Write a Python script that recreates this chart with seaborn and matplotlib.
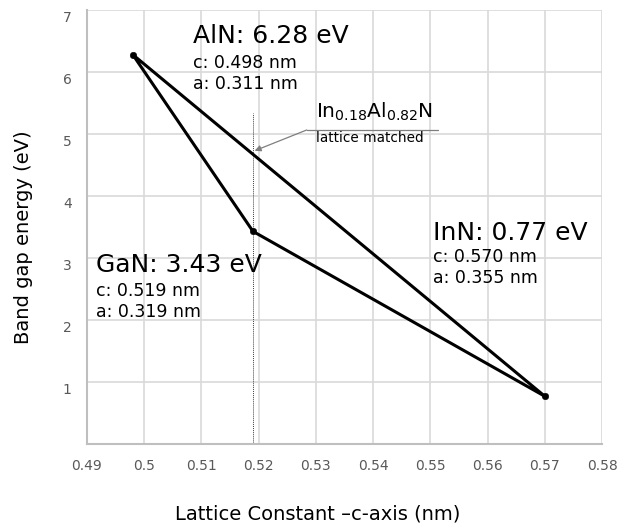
import matplotlib
matplotlib.use("Agg")
import matplotlib.pyplot as plt
import matplotlib.transforms as mtransforms
import seaborn as sns
import pandas as pd

# Data
materials = ["AlN", "GaN", "InN"]
c_lattice = [0.498, 0.519, 0.570]
a_lattice = [0.311, 0.319, 0.355]
band_gap = [6.28, 3.43, 0.77]
# Outline path: AlN -> GaN -> InN -> AlN
path_order = ["AlN", "GaN", "InN", "AlN"]
matched_c = 0.519
matched_top = 5.34
arrow_tip_y = 4.73
x_ticks = [0.49, 0.50, 0.51, 0.52, 0.53, 0.54, 0.55, 0.56, 0.57, 0.58]
x_tick_labels = ["0.49", "0.5", "0.51", "0.52", "0.53", "0.54", "0.55", "0.56", "0.57", "0.58"]
y_ticks = [1, 2, 3, 4, 5, 6, 7]

sns.set_style("white")
plt.rcParams["font.family"] = ["DejaVu Sans"]
plt.rcParams["text.color"] = "black"
plt.rcParams["axes.labelcolor"] = "black"

df = pd.DataFrame({"material": materials, "c": c_lattice, "a": a_lattice, "Eg": band_gap})
idx = {m: i for i, m in enumerate(materials)}
path_df = pd.DataFrame({
    "c": [c_lattice[idx[m]] for m in path_order],
    "Eg": [band_gap[idx[m]] for m in path_order],
})

fig = plt.figure(figsize=(6.28, 5.28), dpi=100)
ax = fig.add_axes([87/628, 1-444/528, (602-87)/628, (444-10)/528])

sns.lineplot(data=path_df, x="c", y="Eg", sort=False, estimator=None,
             color="black", linewidth=2.2, ax=ax, zorder=3)
sns.scatterplot(data=df, x="c", y="Eg", color="black", s=22, edgecolor="black",
                ax=ax, zorder=4)

ax.set_xlim(0.49, 0.58)
ax.set_ylim(0, 7)
ax.set_xticks(x_ticks)
ax.set_xticklabels(x_tick_labels)
ax.set_yticks(y_ticks)
ax.set_yticklabels([str(v) for v in y_ticks])
ax.grid(True, color="#d9d9d9", linewidth=1.2)
ax.set_axisbelow(True)
for s in ["top", "right"]:
    ax.spines[s].set_visible(False)
for s in ["left", "bottom"]:
    ax.spines[s].set_color("#bfbfbf")
    ax.spines[s].set_linewidth(1.5)
ax.tick_params(axis="both", length=0, labelsize=10, labelcolor="#595959")
ax.tick_params(axis="x", pad=11)
ax.tick_params(axis="y", pad=11)
offset = mtransforms.ScaledTranslation(0, -6/100, fig.dpi_scale_trans)
for lab in ax.get_yticklabels():
    lab.set_transform(lab.get_transform() + offset)

ax.set_xlabel("Lattice Constant \u2013c-axis (nm)", fontsize=14)
ax.set_ylabel("Band gap energy (eV)", fontsize=14)
ax.xaxis.label.set_va("center")
ax.yaxis.label.set_va("center")
ax.xaxis.set_label_coords((318-87)/515, -(514-444)/434)
ax.yaxis.set_label_coords((24-87)/515, (444-237)/434)

# Lattice-matched dotted vertical line
ax.plot([matched_c, matched_c], [0, matched_top], color="#404040", linestyle=(0, (1, 1)),
        linewidth=0.7, zorder=2)

# Annotation arrow with underline
ax.plot([0.5284, 0.5514], [5.065, 5.065], color="#7f7f7f", linewidth=0.9, zorder=2)
ax.annotate("", xy=(matched_c + 0.0003, arrow_tip_y), xytext=(0.5284, 5.065),
            arrowprops=dict(arrowstyle="-|>", color="#7f7f7f", lw=0.9,
                            mutation_scale=9, shrinkA=0, shrinkB=0), zorder=2)
ax.text(0.5300, 5.258, r"In$_{0.18}$Al$_{0.82}$N", fontsize=14.5, va="baseline", ha="left")
ax.text(0.5300, 4.87, "lattice matched", fontsize=9.8, va="baseline", ha="left")

# Material labels
big = 18
small = 12.5
ax.text(0.5085, 6.47, "AlN: 6.28 eV", fontsize=big, va="baseline", ha="left")
ax.text(0.5085, 6.06, "c: 0.498 nm", fontsize=small, va="baseline", ha="left")
ax.text(0.5085, 5.72, "a: 0.311 nm", fontsize=small, va="baseline", ha="left")

ax.text(0.4916, 2.77, "GaN: 3.43 eV", fontsize=big, va="baseline", ha="left")
ax.text(0.4916, 2.39, "c: 0.519 nm", fontsize=small, va="baseline", ha="left")
ax.text(0.4916, 2.05, "a: 0.319 nm", fontsize=small, va="baseline", ha="left")

ax.text(0.5505, 3.29, "InN: 0.77 eV", fontsize=big, va="baseline", ha="left")
ax.text(0.5505, 2.94, "c: 0.570 nm", fontsize=small, va="baseline", ha="left")
ax.text(0.5505, 2.60, "a: 0.355 nm", fontsize=small, va="baseline", ha="left")

fig.savefig("out.png", dpi=100)
